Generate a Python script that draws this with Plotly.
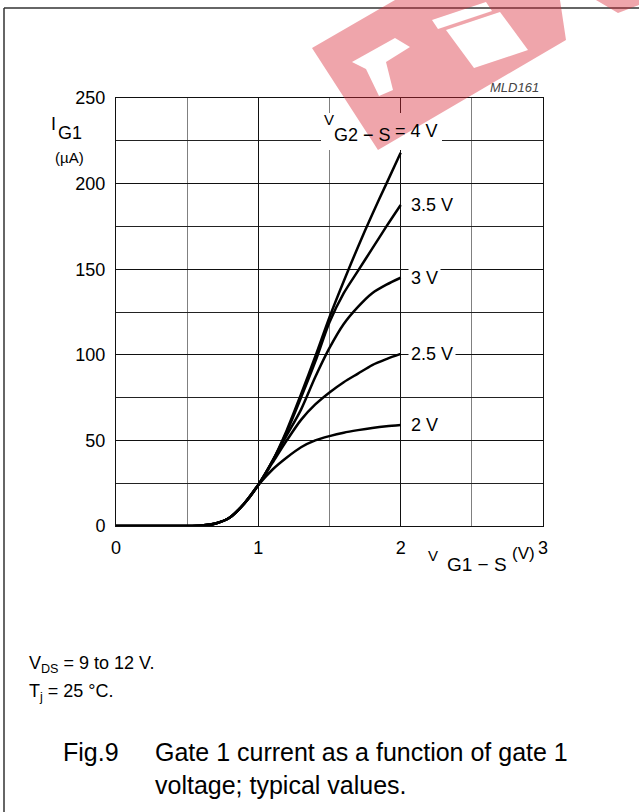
import plotly.graph_objects as go

# ---- data ----
vg1 = [0, 0.5, 0.6, 0.7, 0.8, 0.9, 1.0, 1.1, 1.2, 1.3, 1.4, 1.5, 1.6, 1.7, 1.8, 1.9, 2.0]
ig1_4v = [0, 0, 0.3, 1.5, 5, 13, 24, 38, 56, 77, 99, 122, 143, 163, 182, 200, 218]
ig1_3v5 = [0, 0, 0.3, 1.5, 5, 13, 24, 38, 55, 75, 96, 119, 136, 149, 162, 175, 187.5]
ig1_3v = [0, 0, 0.3, 1.5, 5, 13, 24, 38, 53, 68, 87, 104, 118, 128, 136, 141, 145]
ig1_2v5 = [0, 0, 0.3, 1.5, 5, 13, 24, 37, 50, 62, 71, 78, 84, 89, 94, 97.5, 100.5]
ig1_2v = [0, 0, 0.3, 1.5, 5, 13, 24, 33, 40, 46, 50, 52.5, 54.5, 56, 57.3, 58.3, 59]

series = [
    ("3.5 V", ig1_3v5),
    ("3 V", ig1_3v),
    ("2.5 V", ig1_2v5),
    ("2 V", ig1_2v),
    ("4 V", ig1_4v),
]
x_ticks = [0, 1, 2, 3]
y_ticks = [0, 50, 100, 150, 200, 250]

W, H = 639, 812
L, R, T, B = 116, 543, 98, 526
FONT = "Liberation Sans, Arial, Helvetica, sans-serif"


def px(x):
    return (x - L) / (R - L)


def py(y):
    return (B - y) / (B - T)


fig = go.Figure()
for name, vals in series:
    fig.add_trace(go.Scatter(
        x=vg1, y=vals, mode="lines", name=name,
        line=dict(color="black", width=2.5, shape="spline", smoothing=0.8),
        showlegend=False, hoverinfo="skip",
    ))

anns = []


def txt(text, x, y, size, xanchor="center", yanchor="middle", color="black",
        bg=None, italic=False, xref="paper", yref="paper", xshift=0, pad=1):
    d = dict(text=text, x=x, y=y, xref=xref, yref=yref, showarrow=False,
             xanchor=xanchor, yanchor=yanchor, xshift=xshift,
             font=dict(family=FONT, size=size, color=color,
                       style="italic" if italic else "normal"))
    if bg:
        d["bgcolor"] = bg
        d["borderpad"] = pad
    anns.append(d)


# curve labels at the end of each curve (x = 2)
label_y = {"3.5 V": ig1_3v5[-1], "3 V": ig1_3v[-1], "2.5 V": ig1_2v5[-1], "2 V": ig1_2v[-1]}
for name, yv in label_y.items():
    txt(name, vg1[-1], yv, 18, xanchor="left", xref="x", yref="y", xshift=7, bg="white", pad=2)

# V_G2-S = 4 V label
txt("V", px(329), py(120), 15)
txt("G2 \u2212 S", px(362), py(135), 18)
txt("= 4 V", px(416), py(131), 18)

# y axis title
txt("I", px(53), py(124), 18)
txt("G1", px(70), py(133), 18)
txt("(\u00b5A)", px(69), py(157), 15)

# x axis title
txt("V", px(433), py(555), 15)
txt("G1 \u2212 S", px(477), py(564), 19)
txt("(V)", px(523), py(553), 17)

# reference code
txt("MLD161", px(541), py(87), 13, xanchor="right", color="#444", italic=True)

# notes and caption
txt("V<sub>DS</sub> = 9 to 12 V.", px(27), py(664), 18, xanchor="left")
txt("T<sub>j</sub> = 25 \u00b0C.", px(27), py(692), 18, xanchor="left")
txt("Fig.9", px(61), py(752), 25, xanchor="left")
txt("Gate 1 current as a function of gate 1", px(153), py(752), 25, xanchor="left")
txt("voltage; typical values.", px(153), py(785), 25, xanchor="left")

shapes = []
# white box behind the V_G2-S label
shapes.append(dict(type="rect", xref="paper", yref="paper",
                   x0=px(321), x1=px(442), y0=py(113), y1=py(150),
                   fillcolor="white", line=dict(width=0), layer="above"))
# outer frame (top and left edges)
shapes.append(dict(type="line", xref="paper", yref="paper",
                   x0=px(4), x1=px(639), y0=py(8), y1=py(8),
                   line=dict(color="#333", width=1.5)))
shapes.append(dict(type="line", xref="paper", yref="paper",
                   x0=px(4), x1=px(4), y0=py(8), y1=py(812),
                   line=dict(color="#333", width=1.5)))


def poly(pts):
    return "M " + " L ".join(f"{px(a):.5f},{py(b):.5f}" for a, b in pts) + " Z"


wm = " ".join([
    poly([(312, 48), (395, 0), (560, 0), (566, 40), (378, 150)]),
    poly([(352, 62), (395, 38), (410, 47), (386, 62), (393, 90), (379, 96), (366, 69)]),
    poly([(446, 30), (500, 12), (528, 50), (474, 68)]),
    poly([(432, 20), (486, 2), (492, 11), (438, 29)]),
    poly([(596, 0), (639, 0), (639, 5), (618, 13)]),
])
shapes.append(dict(type="path", xref="paper", yref="paper", path=wm,
                   fillcolor="rgb(217,40,55)", opacity=0.42, fillrule="evenodd",
                   line=dict(width=0), layer="above"))

fig.update_layout(
    width=W, height=H,
    margin=dict(l=L, r=W - R, t=T, b=H - B, pad=0),
    paper_bgcolor="white", plot_bgcolor="white",
    font=dict(family=FONT, size=18, color="black"),
    annotations=anns, shapes=shapes,
    xaxis=dict(range=[0, 3], tickvals=x_ticks, ticktext=[str(v) for v in x_ticks],
               showgrid=True, gridcolor="#111", gridwidth=1,
               minor=dict(dtick=0.5, tick0=0, showgrid=True, gridcolor="#808080", gridwidth=1),
               showline=True, linecolor="#111", linewidth=1, mirror=True,
               zeroline=False, ticks="", ticklabelstandoff=5,
               tickfont=dict(size=18, family=FONT)),
    yaxis=dict(range=[0, 250], tickvals=y_ticks, ticktext=[str(v) for v in y_ticks],
               showgrid=True, gridcolor="#111", gridwidth=1,
               minor=dict(dtick=25, tick0=0, showgrid=True, gridcolor="#222", gridwidth=1),
               showline=True, linecolor="#111", linewidth=1, mirror=True,
               zeroline=False, ticks="", ticklabelstandoff=6,
               tickfont=dict(size=18, family=FONT)),
)

fig.write_html("out.html", config={"displayModeBar": False},
               post_script="document.body.style.margin='0';")
